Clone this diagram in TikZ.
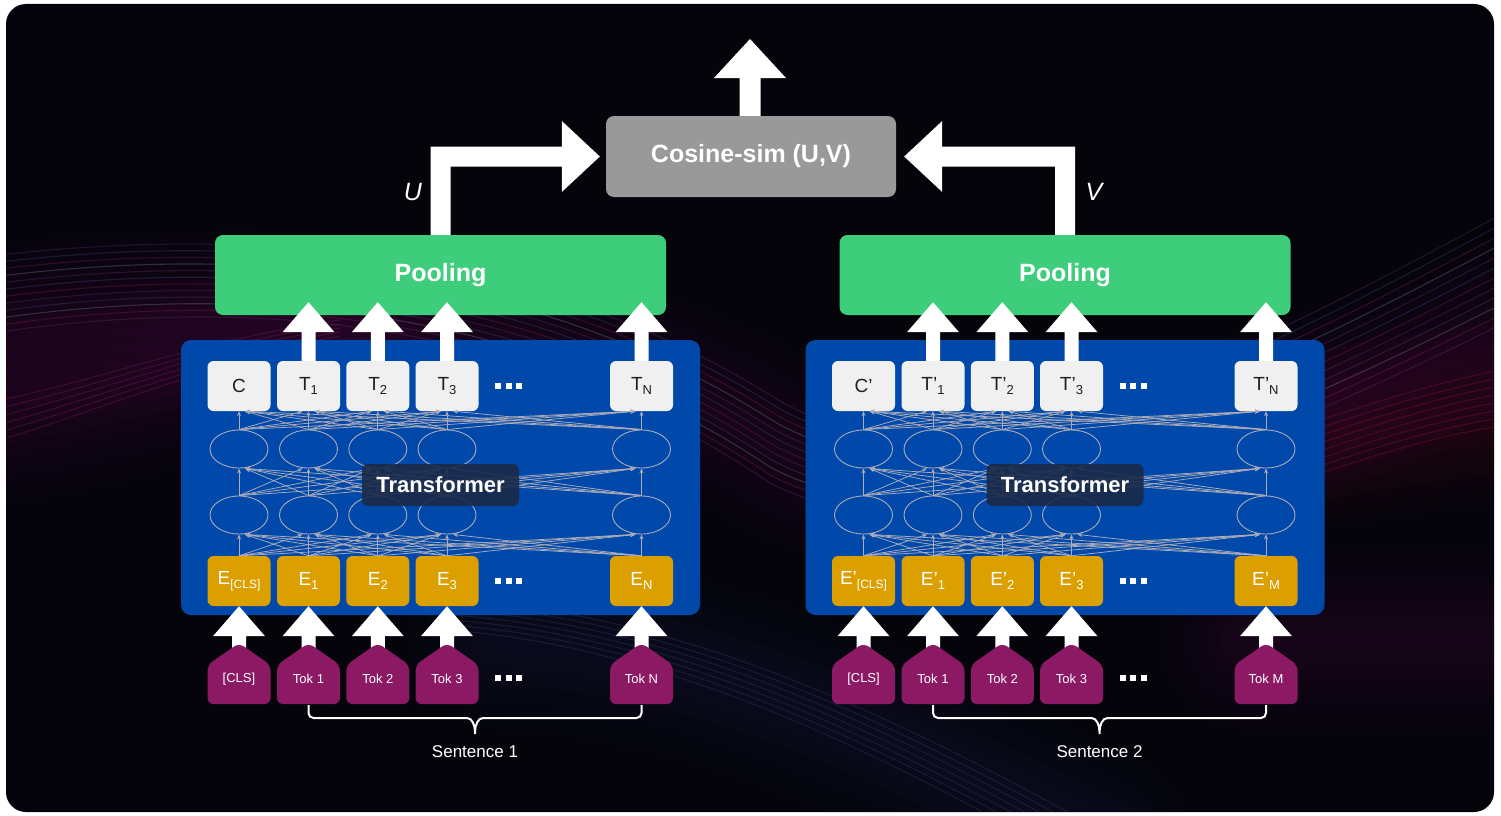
\documentclass[tikz,border=0pt]{standalone}
\usepackage{fontspec}
\setmainfont{Liberation Sans}
\usetikzlibrary{calc,arrows.meta,shapes.geometric}

\definecolor{bgdark}{RGB}{4,4,10}
\definecolor{panelblue}{RGB}{0,72,170}
\definecolor{poolgreen}{RGB}{62,205,122}
\definecolor{embgold}{RGB}{219,160,0}
\definecolor{tlight}{RGB}{240,240,240}
\definecolor{tdark}{RGB}{30,30,30}
\definecolor{tokfill}{RGB}{139,25,99}
\definecolor{cosgray}{RGB}{153,153,153}
\definecolor{trdark}{RGB}{27,42,72}
\definecolor{linegray}{RGB}{172,172,184}
\definecolor{wp}{RGB}{130,60,150}
\definecolor{wb}{RGB}{80,100,170}
\definecolor{wm}{RGB}{180,40,120}
\definecolor{ww}{RGB}{170,170,210}
\definecolor{wr}{RGB}{170,30,60}
\definecolor{hazeA}{RGB}{110,30,100}
\definecolor{hazeB}{RGB}{140,25,60}
\definecolor{hazeC}{RGB}{40,50,110}

\pgfdeclarelayer{backdrop}
\pgfdeclarelayer{fat}
\pgfsetlayers{backdrop,fat,main}

% lowered index text
\newcommand\sbs[1]{\raisebox{-4pt}{\fontsize{13}{13}\selectfont #1}}
\newcommand\sbss[1]{\raisebox{-4pt}{\fontsize{12}{12}\selectfont #1}}

% vertical block arrow: from, tip, shaft half width, head half width, head length
\newcommand\blkup[5]{%
  \fill[white] let \p1=(#1), \p2=(#2) in
    (\x2-#3,\y1) -- (\x2-#3,\y2-#5) -- (\x2-#4,\y2-#5) -- (\x2,\y2)
    -- (\x2+#4,\y2-#5) -- (\x2+#3,\y2-#5) -- (\x2+#3,\y1) -- cycle;}

% elbow block arrow: up from #1, then sideways to tip #2; #3 = 1 (right) or -1 (left)
\newcommand\blkelbow[3]{%
  \fill[white] let \p1=(#1), \p2=(#2) in
    ({\x1-#3*10pt},\y1) -- ({\x1-#3*10pt},\y2+10pt) -- ({\x2-#3*38pt},\y2+10pt)
    -- ({\x2-#3*38pt},\y2+35.5pt) -- (\x2,\y2) -- ({\x2-#3*38pt},\y2-35.5pt)
    -- ({\x2-#3*38pt},\y2-10pt) -- ({\x1+#3*10pt},\y2-10pt) -- ({\x1+#3*10pt},\y1) -- cycle;}

% soft glow along a path: colour, path
\newcommand\glow[2]{%
  \foreach \w in {30,60,90,120,150,180}{\draw[#1, line width=\w pt, opacity=0.035, line cap=round] #2;}}

% one encoder tower: prefix, x offset, prime mark, last E index, last token, sentence
\newcommand\encoder[6]{%
  \pgfmathsetmacro\ox{#2}
  \begin{pgfonlayer}{backdrop}
    \node[panel] (#1panel) at (440.5+\ox,477.5) {};
  \end{pgfonlayer}
  \node[poolbox] (#1pool) at (440.5+\ox,275) {Pooling};
  \foreach \i/\xx/\lbT/\lbE/\lbK in {%
      0/239/{C#3}/{E#3\sbss{[CLS]}}/{[CLS]},
      1/308.5/{T#3\sbs{1}}/{E#3\sbs{1}}/{Tok 1},
      2/377.8/{T#3\sbs{2}}/{E#3\sbs{2}}/{Tok 2},
      3/447/{T#3\sbs{3}}/{E#3\sbs{3}}/{Tok 3},
      4/641.5/{T#3\sbs{N}}/{E#3\sbs{#4}}/{#5}}{
    \pgfmathsetmacro\X{\xx+\ox}
    \node[tbox] (#1t\i) at (\X,386) {\lbT};
    \node[hid] (#1b\i) at (\X,449) {};
    \node[hid] (#1a\i) at (\X,515) {};
    \node[ebox] (#1e\i) at (\X,581) {\lbE};
    \fill[tokfill, rounded corners=6pt] (\X,704) -- (\X-31.5,704) -- (\X-31.5,665)
      -- (\X,643) -- (\X+31.5,665) -- (\X+31.5,704) -- cycle;
    \node[toktext] (#1k\i) at (\X,679) {\lbK};
    \coordinate (#1kb\i) at (\X,705);
  }
  % fully connected layers; heads from the left land left of centre, from the right land right
  \foreach \i in {0,...,4}{\foreach \j in {0,...,4}{
    \pgfmathsetmacro\s{6*sign(\i-\j)}
    \draw[conn] (#1e\i.north) -- ($(#1a\j.south)+(\s,0)$);
    \draw[conn] (#1a\i.north) -- ($(#1b\j.south)+(\s,0)$);
    \draw[conn] (#1b\i.north) -- ($(#1t\j.south)+(\s,0)$);}}
  \node[trlabel] (#1trf) at (440.5+\ox,485) {Transformer};
  % ellipsis marks
  \foreach \yy in {386,581,678}{\foreach \d in {-10.5,0,10.5}{
    \fill[white] (508.5+\ox+\d-3,\yy-3) rectangle ++(6,6);}}
  % token -> embedding arrows
  \begin{pgfonlayer}{fat}
    \foreach \i in {0,...,4}{\blkup{#1k\i.center}{#1e\i.south}{7pt}{26pt}{30pt}}
  \end{pgfonlayer}
  % output -> pooling arrows
  \foreach \i in {1,...,4}{\blkup{#1t\i.north}{$(#1t\i.north |- #1pool.south)+(0,-13)$}{7pt}{26pt}{30pt}}
  % sentence brace
  \draw[brace] let \p1=(#1kb1), \p2=(#1kb4) in
    (\p1) -- (\x1,\y1-13pt) -- ({(\x1+\x2)/2-13pt},\y1-13pt)
    .. controls ({(\x1+\x2)/2-3pt},\y1-13pt) and ({(\x1+\x2)/2},\y1-20pt) .. ({(\x1+\x2)/2},\y1-32pt)
    .. controls ({(\x1+\x2)/2},\y1-20pt) and ({(\x1+\x2)/2+3pt},\y1-13pt) .. ({(\x1+\x2)/2+13pt},\y1-13pt)
    -- (\x2,\y1-13pt) -- (\p2);
  \node[sent] (#1sent) at (475+\ox,752) {#6};
}

\begin{document}
\begin{tikzpicture}[x=1pt,y=-1pt,
  panel/.style={rectangle, rounded corners=10pt, fill=panelblue, minimum width=519pt, minimum height=275pt, inner sep=0pt},
  poolbox/.style={rectangle, rounded corners=8pt, fill=poolgreen, minimum width=451pt, minimum height=80pt, inner sep=0pt, text=white, font=\bfseries\fontsize{25}{25}\selectfont},
  cosbox/.style={rectangle, rounded corners=8pt, fill=cosgray, minimum width=290pt, minimum height=81pt, inner sep=0pt, text=white, font=\bfseries\fontsize{25}{25}\selectfont},
  tbox/.style={rectangle, rounded corners=6pt, fill=tlight, text=tdark, minimum width=63pt, minimum height=50pt, inner sep=0pt, font=\fontsize{19}{19}\selectfont},
  ebox/.style={rectangle, rounded corners=6pt, fill=embgold, text=white, minimum width=63pt, minimum height=50pt, inner sep=0pt, font=\fontsize{19}{19}\selectfont},
  hid/.style={ellipse, draw=linegray, line width=0.9pt, minimum width=58pt, minimum height=38pt, inner sep=0pt},
  conn/.style={draw=linegray, line width=0.75pt, -{Stealth[length=5pt,width=4pt]}},
  toktext/.style={text=white, inner sep=0pt, font=\fontsize{13}{13}\selectfont},
  trlabel/.style={rectangle, rounded corners=6pt, fill=trdark, fill opacity=0.9, text opacity=1, text=white, minimum width=157pt, minimum height=42pt, inner sep=0pt, font=\bfseries\fontsize{22}{22}\selectfont},
  brace/.style={draw=white, line width=2pt, rounded corners=5pt},
  sent/.style={text=white, inner sep=0pt, font=\fontsize{17}{17}\selectfont},
  ulabel/.style={text=white, inner sep=0pt, font=\itshape\fontsize{25}{25}\selectfont}]
\useasboundingbox (0,0) rectangle (1501,816);

\begin{pgfonlayer}{backdrop}
  \fill[white] (0,0) rectangle (1501,816);
  \fill[bgdark, rounded corners=20pt] (6,4) rectangle (1494,812);
  \begin{scope}
    \clip[rounded corners=20pt] (6,4) rectangle (1494,812);
    % soft glow bands
    \glow{hazeA}{(-60,340) .. controls (350,290) and (600,340) .. (770,440) .. controls (950,550) and (1250,430) .. (1560,310)}
    \glow{hazeA}{(-40,420) .. controls (120,400) and (220,360) .. (360,340)}
    \glow{hazeB}{(950,520) .. controls (1150,480) and (1350,420) .. (1560,410)}
    \glow{hazeC}{(500,640) .. controls (700,650) and (850,720) .. (1100,840)}
    \glow{hazeA}{(1250,640) .. controls (1350,640) and (1450,640) .. (1560,640)}
    % streaks
    \foreach \k/\c in {0/wp,1/wb,2/wm,3/ww,4/wp,5/wb,6/wm,7/wp,8/wb,9/ww,10/wm,11/wp}{
      \draw[\c, line width=1.1pt, opacity=0.24] (0,255+7*\k) .. controls (350,215+6*\k) and (600,290+7*\k) .. (770,395+8*\k)
        .. controls (950,510+6*\k) and (1250,350+9*\k) .. (1500,215+10*\k);}
    \foreach \k in {0,...,5}{
      \draw[wm, line width=1pt, opacity=0.24] (0,400+8*\k) .. controls (100,380+6*\k) and (200,340+5*\k) .. (340,320+4*\k);}
    \foreach \k in {0,...,7}{
      \draw[wr, line width=1.2pt, opacity=0.24] (1000,520+9*\k) .. controls (1200,470+8*\k) and (1350,400+7*\k) .. (1500,370+8*\k);}
    \foreach \k in {0,...,6}{
      \draw[wb, line width=1pt, opacity=0.2] (450,600+5*\k) .. controls (650,610+6*\k) and (850,690+7*\k) .. (1100,830+8*\k);}
  \end{scope}
\end{pgfonlayer}

\node[cosbox] (cos) at (751,156.5) {Cosine-sim (U,V)};
\coordinate (out) at (750,39);

\encoder{L}{0}{}{N}{Tok N}{Sentence 1}
\encoder{R}{624.5}{’}{M}{Tok M}{Sentence 2}

% pooled vectors into the similarity block, and its output
\blkelbow{Lpool.north}{$(cos.west)+(-6,0)$}{1}
\blkelbow{Rpool.north}{$(cos.east)+(8,0)$}{-1}
\blkup{cos.north}{out}{10.5pt}{36pt}{39pt}

\node[ulabel] (ulab) at (413,192) {U};
\node[ulabel] (vlab) at (1094,192) {V};
\end{tikzpicture}
\end{document}
